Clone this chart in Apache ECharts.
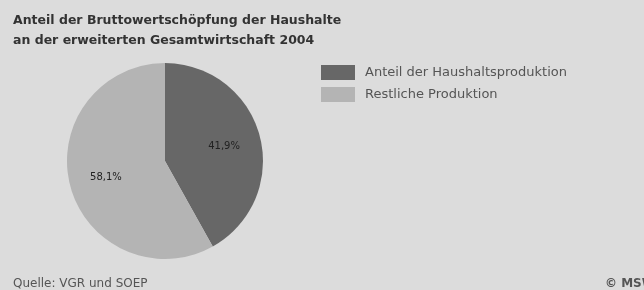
<!DOCTYPE html>
<html><head><meta charset="utf-8">
<script src="https://cdn.jsdelivr.net/npm/echarts@6/dist/echarts.min.js"></script>
<style>html,body{margin:0;padding:0;background:#dcdcdc}#c{width:644px;height:290px}</style>
</head><body><div id="c"></div>
<script>
const categories = ["Anteil der Haushaltsproduktion", "Restliche Produktion"];
const values = [41.9, 58.1];
const labels = ["41,9%", "58,1%"];
const colors = ["#676767", "#b4b4b4"];

const data = categories.map((n, i) => ({ name: n, value: values[i], itemStyle: { color: colors[i] } }));
const chart = echarts.init(document.getElementById('c'));
chart.setOption({
  backgroundColor: '#dcdcdc',
  animation: false,
  title: [
    { text: 'Anteil der Bruttowertschöpfung der Haushalte\nan der erweiterten Gesamtwirtschaft 2004', left: 8, top: 6,
      textStyle: { fontFamily: 'DejaVu Sans', fontWeight: 'bold', fontSize: 12.5, color: '#333', lineHeight: 20 } },
    { text: 'Quelle: VGR und SOEP', left: 8, top: 273,
      textStyle: { fontFamily: 'DejaVu Sans', fontWeight: 'normal', fontSize: 12, color: '#555' } },
    { text: '© MSW', left: 600, top: 273,
      textStyle: { fontFamily: 'DejaVu Sans', fontWeight: 'bold', fontSize: 12, color: '#555' } }
  ],
  legend: {
    orient: 'vertical', left: 316, top: 60, icon: 'rect', itemWidth: 34, itemHeight: 15, itemGap: 7,
    data: categories,
    textStyle: { fontFamily: 'DejaVu Sans', fontSize: 13, color: '#555', padding: [0, 0, 0, 5] }
  },
  series: [
    { type: 'pie', center: [165, 161], radius: [0, 98], startAngle: 90, clockwise: true,
      data: data, label: { show: false }, labelLine: { show: false }, silent: true,
      itemStyle: { borderWidth: 0 } },
    { type: 'pie', center: [165, 162], radius: [0, 116], startAngle: 90, clockwise: true, silent: true,
      data: categories.map((n, i) => ({ name: n, value: values[i], itemStyle: { color: 'rgba(0,0,0,0)' } })),
      legendHoverLink: false,
      label: { show: true, position: 'inside', formatter: p => labels[p.dataIndex],
        fontFamily: 'DejaVu Sans', fontSize: 10, color: '#222' },
      labelLine: { show: false } }
  ]
});
</script></body></html>
